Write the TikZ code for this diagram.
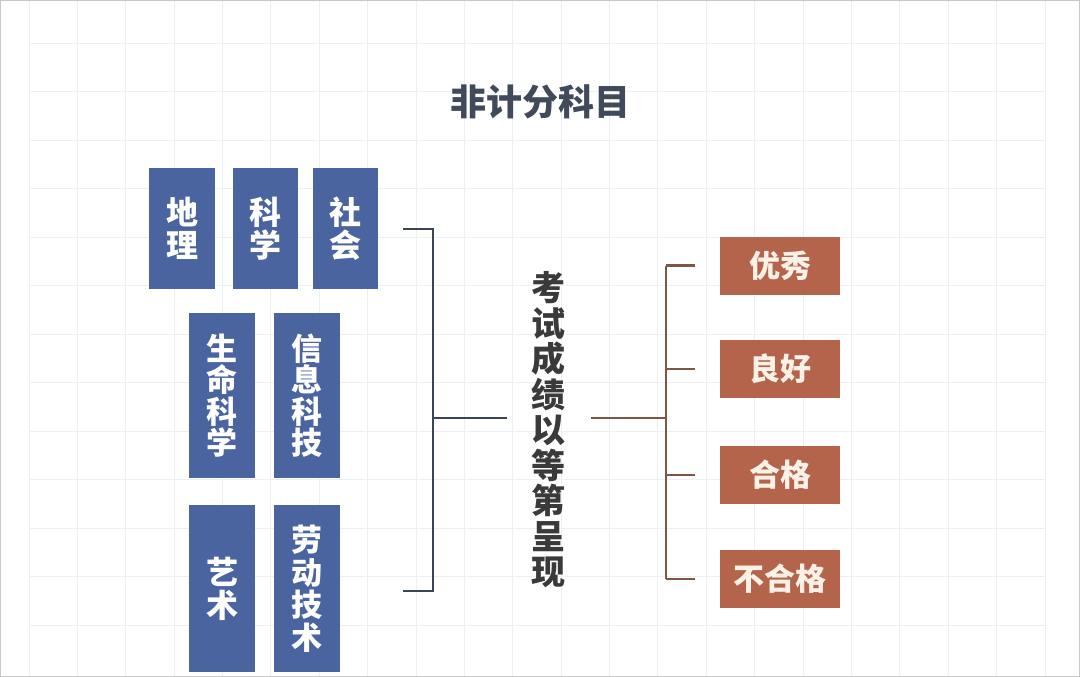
\documentclass[tikz,border=0pt]{standalone}
\usepackage{fontspec}
\newfontfamily\cjk{Noto Sans CJK SC}
\definecolor{bluebox}{HTML}{4A64A0}
\definecolor{brownbox}{HTML}{B4644B}
\definecolor{darkline}{HTML}{3A4456}
\definecolor{brownline}{HTML}{7E5646}
\definecolor{titlecol}{HTML}{404A5A}
\definecolor{centertext}{HTML}{3A3A3A}
\definecolor{gridcol}{HTML}{ECEFF3}
\definecolor{framecol}{HTML}{C8C8C8}
\definecolor{creamtext}{HTML}{FBF1E6}
\tikzset{
  subj/.style={fill=bluebox, text=white, inner sep=0pt, minimum width=66pt,
    align=center, font=\cjk\bfseries\fontsize{32}{33}\selectfont},
  grade/.style={fill=brownbox, text=creamtext, inner sep=0pt, minimum width=120pt,
    minimum height=58pt, font=\cjk\bfseries\fontsize{31}{33}\selectfont},
  leftbus/.style={draw=darkline, line width=2.8pt},
  rightbus/.style={draw=brownline, line width=2.8pt},
}
\begin{document}
\begin{tikzpicture}[x=1pt,y=-1pt]
\useasboundingbox (0,0) rectangle (1080,677);
\fill[white] (0,0) rectangle (1080,677);
% grid
\foreach \i in {0,...,21} {
  \draw[gridcol, line width=0.9pt] ({29+48.38*\i},0) -- ({29+48.38*\i},677);
}
\foreach \j in {0,...,13} {
  \draw[gridcol, line width=0.9pt] (29,{-5.5+48.5*\j}) -- (1045,{-5.5+48.5*\j});
}
\draw[framecol, line width=1.2pt] (0.6,0.6) rectangle (1079.4,676.4);

% title
\node[font=\cjk\bfseries\fontsize{36}{38}\selectfont, text=titlecol] (title) at (540,102) {非计分科目};

% subject boxes
\node[subj, minimum height=121pt] (dili) at (182,228.5) {地\\理};
\node[subj, minimum height=121pt, minimum width=65pt] (kexue) at (265.5,228.5) {科\\学};
\node[subj, minimum height=121pt, minimum width=65pt] (shehui) at (345.5,228.5) {社\\会};
\node[subj, minimum height=165pt, font=\cjk\bfseries\fontsize{31}{31.5}\selectfont] (sming) at (222,395.5) {生\\命\\科\\学};
\node[subj, minimum height=165pt, font=\cjk\bfseries\fontsize{31}{31.5}\selectfont] (xinxi) at (307,395.5) {信\\息\\科\\技};
\node[subj, minimum height=167pt] (yishu) at (222,588.5) {艺\\术};
\node[subj, minimum height=167pt, font=\cjk\bfseries\fontsize{31}{32.5}\selectfont] (laodong) at (307,588.5) {劳\\动\\技\\术};

% center text
\node[align=center, inner sep=0pt, text=centertext, font=\cjk\bfseries\fontsize{34}{35.5}\selectfont] (center) at (548,430)
  {考\\试\\成\\绩\\以\\等\\第\\呈\\现};

% grade boxes
\node[grade] (youxiu) at (780,265.5) {优秀};
\node[grade] (lianghao) at (780,369) {良好};
\node[grade] (hege) at (780,475) {合格};
\node[grade] (buhege) at (780,579) {不合格};

% left bracket
\coordinate (lt) at (403,229);
\coordinate (lb) at (403,591);
\coordinate (lmid) at (433,418);
\draw[leftbus] (lt) -- (433,229) -- (433,591) -- (lb);
\draw[leftbus] (lmid) -- ([xshift=-24pt]center.west |- lmid);
% right bracket
\coordinate (rmid) at (666,418);
\draw[rightbus] ([xshift=26pt]center.east |- rmid) -- (rmid);
\draw[rightbus] (666,265.5) -- (666,579);
\foreach \n in {youxiu,lianghao,hege,buhege} {
  \draw[rightbus] (666,0 |- \n.west) -- ([xshift=-25pt]\n.west);
}
\end{tikzpicture}
\end{document}
